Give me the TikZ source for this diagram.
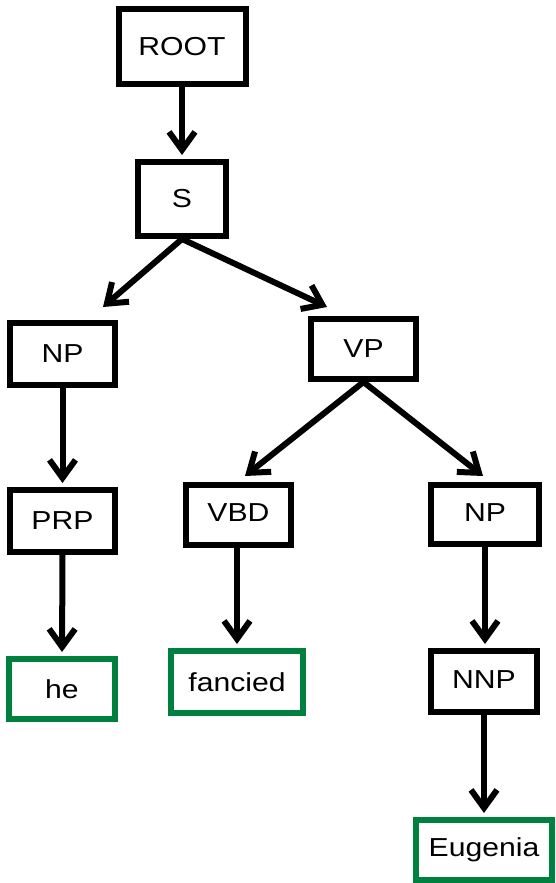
\documentclass[tikz,border=0pt]{standalone}
\usepackage{fontspec}
\setmainfont{Liberation Sans}
\usetikzlibrary{arrows.meta,calc}
\definecolor{leafgreen}{RGB}{0,128,62}
\newcommand{\lbl}[1]{\scalebox{1.16}[1]{#1}}
\begin{document}
\begin{tikzpicture}[x=1pt,y=-1pt,
  tag/.style n args={2}{draw=black,line width=6pt,inner sep=0pt,
    minimum width=#1pt,minimum height=#2pt,
    font=\fontsize{26}{31}\selectfont},
  leaf/.style n args={2}{tag={#1}{#2},draw=leafgreen},
  edge/.style={line width=6pt,-{Straight Barb[length=18pt,width=26pt]}},
  vedge/.style={edge,shorten >=4pt}]
\useasboundingbox (0,0) rectangle (555,883);

% phrase-structure nodes
\node[tag={127}{75}] (root) at (182,46.5)   {\lbl{ROOT}};
\node[tag={88}{74}]  (s)    at (182,199)    {\lbl{S}};
\node[tag={105}{62}] (np1)  at (62.5,354)   {\lbl{NP}};
\node[tag={105}{60}] (vp)   at (363.5,349)  {\lbl{VP}};
\node[tag={105}{62}] (prp)  at (62.5,521)   {\lbl{PRP}};
\node[tag={105}{60}] (vbd)  at (238.5,515)  {\raisebox{4pt}{\lbl{VBD}}};
\node[tag={108}{59}] (np2)  at (485,514.5)  {\raisebox{4pt}{\lbl{NP}}};
\node[tag={106}{61}] (nnp)  at (484,681.5)  {\raisebox{4pt}{\lbl{NNP}}};

% word leaves
\node[leaf={106}{60}] (he)      at (62,689)  {\lbl{he}};
\node[leaf={132}{62}] (fancied) at (237,682) {\lbl{fancied}};
\node[leaf={136}{60}] (eugenia) at (484,850) {\lbl{Eugenia}};

% edges
\draw[vedge] (root.south) -- (s.north);
\draw[edge] (s.south) -- ($(np1.north east)+(-15,-13)$);
\draw[edge] (s.south) -- ($(vp.north west)+(19,-9)$);
\draw[vedge] (np1.south) -- (prp.north);
\draw[vedge] (prp.south) -- (he.north);
\draw[edge] (vp.south) -- ($(vbd.north)+(6.5,-6)$);
\draw[edge] (vp.south) -- ($(np2.north)+(-2,-6)$);
\draw[vedge] (vbd.south -| fancied.north) -- (fancied.north);
\draw[vedge] (np2.south) -- (np2.south |- nnp.north);
\draw[vedge] (nnp.south) -- (eugenia.north);
\end{tikzpicture}
\end{document}
